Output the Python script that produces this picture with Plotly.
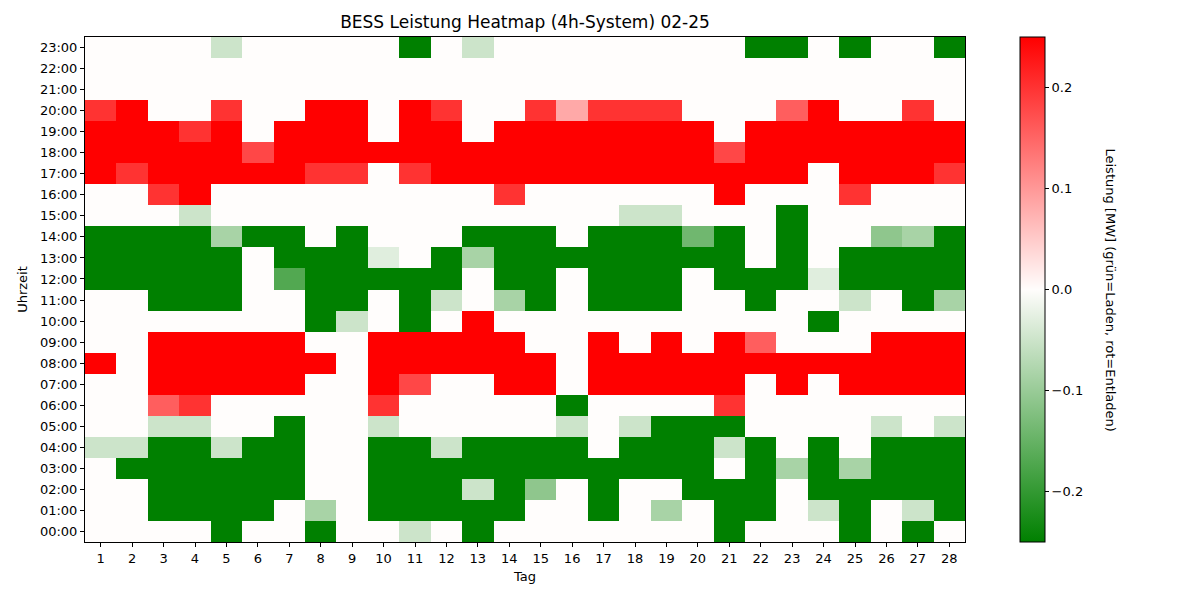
"""BESS power heatmap (4h system), February 2025: hour of day vs. day."""

import plotly.graph_objects as go

# Days of the month and hours of the day
days = list(range(1, 29))
hours = list(range(24))
hour_labels = [f"{h:02d}:00" for h in hours]

# Power per hour [MW], one list per hour, values for day 1..28
# negative = charging (green), positive = discharging (red)
h00 = [0, 0, 0, 0, -.25, 0, 0, -.25, 0, 0, -.05, 0, -.25, 0, 0, 0, 0, 0, 0, 0, -.25, 0, 0, 0, -.25, 0, -.25, 0]
h01 = [0, 0, -.25, -.25, -.25, -.25, 0, -.085, 0, -.25, -.25, -.25, -.25, -.25, 0, 0, -.25, 0, -.085, 0, -.25, -.25, 0, -.05, -.25, 0, -.05, -.25]
h02 = [0, 0, -.25, -.25, -.25, -.25, -.25, 0, 0, -.25, -.25, -.25, -.05, -.25, -.11, 0, -.25, 0, 0, -.25, -.25, -.25, 0, -.25, -.25, -.25, -.25, -.25]
h03 = [0, -.25, -.25, -.25, -.25, -.25, -.25, 0, 0, -.25, -.25, -.25, -.25, -.25, -.25, -.25, -.25, -.25, -.25, -.25, 0, -.25, -.085, -.25, -.085, -.25, -.25, -.25]
h04 = [-.05, -.05, -.25, -.25, -.05, -.25, -.25, 0, 0, -.25, -.25, -.05, -.25, -.25, -.25, -.25, 0, -.25, -.25, -.25, -.05, -.25, 0, -.25, 0, -.25, -.25, -.25]
h05 = [0, 0, -.05, -.05, 0, 0, -.25, 0, 0, -.05, 0, 0, 0, 0, 0, -.05, 0, -.05, -.25, -.25, -.25, 0, 0, 0, 0, -.05, 0, -.05]
h06 = [0, 0, .157, .2, 0, 0, 0, 0, 0, .2, 0, 0, 0, 0, 0, -.25, 0, 0, 0, 0, .2, 0, 0, 0, 0, 0, 0, 0]
h07 = [0, 0, .25, .25, .25, .25, .25, 0, 0, .25, .18, 0, 0, .25, .25, 0, .25, .25, .25, .25, .25, 0, .25, 0, .25, .25, .25, .25]
h08 = [.25, 0, .25, .25, .25, .25, .25, .25, 0, .25, .25, .25, .25, .25, .25, 0, .25, .25, .25, .25, .25, .25, .25, .25, .25, .25, .25, .25]
h09 = [0, 0, .25, .25, .25, .25, .25, 0, 0, .25, .25, .25, .25, .25, 0, 0, .25, 0, .25, 0, .25, .157, 0, 0, 0, .25, .25, .25]
h10 = [0, 0, 0, 0, 0, 0, 0, -.25, -.05, 0, -.25, 0, .25, 0, 0, 0, 0, 0, 0, 0, 0, 0, 0, -.25, 0, 0, 0, 0]
h11 = [0, 0, -.25, -.25, -.25, 0, 0, -.25, -.25, 0, -.25, -.05, 0, -.085, -.25, 0, -.25, -.25, -.25, 0, 0, -.25, 0, 0, -.05, 0, -.25, -.085]
h12 = [-.25, -.25, -.25, -.25, -.25, 0, -.17, -.25, -.25, -.25, -.25, -.25, 0, -.25, -.25, 0, -.25, -.25, -.25, 0, -.25, -.25, -.25, -.03, -.25, -.25, -.25, -.25]
h13 = [-.25, -.25, -.25, -.25, -.25, 0, -.25, -.25, -.25, -.03, 0, -.25, -.085, -.25, -.25, -.25, -.25, -.25, -.25, -.25, -.25, 0, -.25, 0, -.25, -.25, -.25, -.25]
h14 = [-.25, -.25, -.25, -.25, -.085, -.25, -.25, 0, -.25, 0, 0, 0, -.25, -.25, -.25, 0, -.25, -.25, -.25, -.14, -.25, 0, -.25, 0, 0, -.11, -.085, -.25]
h15 = [0, 0, 0, -.05, 0, 0, 0, 0, 0, 0, 0, 0, 0, 0, 0, 0, 0, -.05, -.05, 0, 0, 0, -.25, 0, 0, 0, 0, 0]
h16 = [0, 0, .2, .25, 0, 0, 0, 0, 0, 0, 0, 0, 0, .2, 0, 0, 0, 0, 0, 0, .25, 0, 0, 0, .2, 0, 0, 0]
h17 = [.25, .2, .25, .25, .25, .25, .25, .2, .2, 0, .2, .25, .25, .25, .25, .25, .25, .25, .25, .25, .25, .25, .25, 0, .25, .25, .25, .2]
h18 = [.25, .25, .25, .25, .25, .18, .25, .25, .25, .25, .25, .25, .25, .25, .25, .25, .25, .25, .25, .25, .18, .25, .25, .25, .25, .25, .25, .25]
h19 = [.25, .25, .25, .2, .25, 0, .25, .25, .25, 0, .25, .25, 0, .25, .25, .25, .25, .25, .25, .25, 0, .25, .25, .25, .25, .25, .25, .25]
h20 = [.2, .25, 0, 0, .2, 0, 0, .25, .25, 0, .25, .2, 0, 0, .2, .083, .2, .2, .2, 0, 0, 0, .157, .25, 0, 0, .2, 0]
h21 = [0, 0, 0, 0, 0, 0, 0, 0, 0, 0, 0, 0, 0, 0, 0, 0, 0, 0, 0, 0, 0, 0, 0, 0, 0, 0, 0, 0]
h22 = [0, 0, 0, 0, 0, 0, 0, 0, 0, 0, 0, 0, 0, 0, 0, 0, 0, 0, 0, 0, 0, 0, 0, 0, 0, 0, 0, 0]
h23 = [0, 0, 0, 0, -.05, 0, 0, 0, 0, 0, -.25, 0, -.05, 0, 0, 0, 0, 0, 0, 0, 0, -.25, -.25, 0, -.25, 0, 0, -.25]

# Colorbar ticks
cbar_ticks = [-0.2, -0.1, 0.0, 0.1, 0.2]
cbar_labels = ["\u22120.2", "\u22120.1", "0.0", "0.1", "0.2"]

FONT = "DejaVu Sans, Arial, sans-serif"


def build_figure() -> go.Figure:
    """Build the heatmap figure."""
    z = [h00, h01, h02, h03, h04, h05, h06, h07, h08, h09, h10, h11,
         h12, h13, h14, h15, h16, h17, h18, h19, h20, h21, h22, h23]

    # green -> white -> red, symmetric around zero
    colorscale = [[0.0, "#008000"], [0.5, "#fffdfc"], [1.0, "#ff0000"]]

    fig = go.Figure()
    fig.add_trace(go.Heatmap(
        x=days,
        y=hours,
        z=z,
        zmin=-0.25,
        zmax=0.25,
        colorscale=colorscale,
        hovertemplate="Tag %{x}, %{y}:00<br>%{z:.3f} MW<extra></extra>",
        colorbar=dict(
            thickness=25,
            len=1,
            lenmode="fraction",
            y=0.5,
            yanchor="middle",
            x=1.0625,
            xanchor="left",
            xpad=0,
            ypad=0,
            outlinecolor="black",
            outlinewidth=1,
            ticks="outside",
            ticklen=4,
            tickcolor="black",
            tickvals=cbar_ticks,
            ticktext=cbar_labels,
            tickfont=dict(size=13, color="black", family=FONT),
        ),
    ))

    axis_common = dict(
        showline=True,
        linecolor="black",
        linewidth=1,
        mirror=True,
        ticks="outside",
        ticklen=4,
        tickcolor="black",
        showgrid=False,
        zeroline=False,
        tickfont=dict(size=13, color="black", family=FONT),
    )

    # the page adds an 8px body margin, so shift everything up/left by 8px
    fig.update_layout(
        width=1200,
        height=600,
        font=dict(family=FONT, color="black", size=13),
        paper_bgcolor="white",
        plot_bgcolor="white",
        margin=dict(l=77, r=243, t=29, b=66),
        title=dict(
            text="BESS Leistung Heatmap (4h-System) 02-25",
            x=0.5,
            xref="paper",
            xanchor="center",
            y=1 - 14 / 600,
            yref="container",
            yanchor="middle",
            font=dict(size=17, color="black", family=FONT),
        ),
        xaxis=dict(
            **axis_common,
            range=[0.5, 28.5],
            tickvals=days,
            ticktext=[str(d) for d in days],
            title=dict(text="Tag", standoff=7, font=dict(size=13)),
        ),
        yaxis=dict(
            **axis_common,
            range=[-0.5, 23.5],
            tickvals=hours,
            ticktext=hour_labels,
            title=dict(text="Uhrzeit", standoff=9, font=dict(size=13)),
        ),
    )

    # Colorbar label, rotated to read top to bottom
    fig.add_annotation(
        x=(1110 - 85) / 880,
        y=0.5,
        xref="paper",
        yref="paper",
        text="Leistung [MW] (grün=Laden, rot=Entladen)",
        showarrow=False,
        textangle=90,
        font=dict(size=13, color="black", family=FONT),
        xanchor="center",
        yanchor="middle",
    )

    return fig


if __name__ == "__main__":
    fig = build_figure()
    fig.write_html("out.html")
